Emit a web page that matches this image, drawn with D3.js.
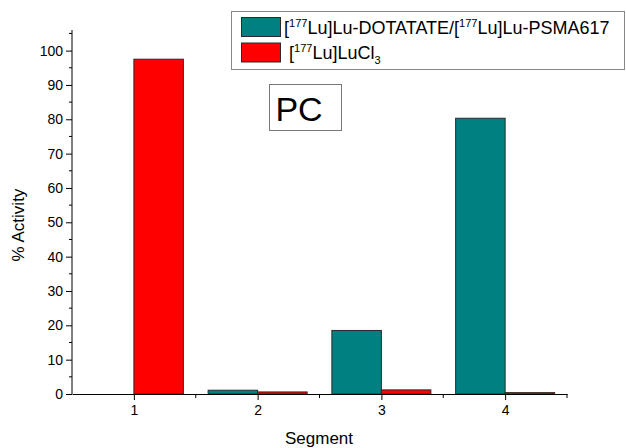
<!DOCTYPE html>
<html><head><meta charset="utf-8">
<script src="https://cdn.jsdelivr.net/npm/d3@7"></script>
<style>body{margin:0;background:#fff}svg{display:block;font-family:"Liberation Sans",Arial,sans-serif}</style>
</head><body><svg id="c" width="626" height="448"></svg>
<script>
const categories = [1, 2, 3, 4];
const seriesNames = ["DOTATATE", "LuCl3"];
const dotatateValues = [0, 1.1, 18.5, 80.3];
const luclValues = [97.5, 0.6, 1.2, 0.4];
const yTicks = [0, 10, 20, 30, 40, 50, 60, 70, 80, 90, 100];
const colors = ["#008080", "#ff0000"];

const svg = d3.select("#c");
const x = d3.scaleLinear().domain([0.5, 4.5]).range([72, 567]);
const y = d3.scaleLinear().domain([0, 106]).range([394, 30]);
const bw = 0.4;

// bars
const data = [];
categories.forEach((c, i) => {
  data.push({c, s: 0, v: dotatateValues[i]});
  data.push({c, s: 1, v: luclValues[i]});
});
svg.append("g").selectAll("rect").data(data.filter(d => d.v > 0)).join("rect")
  .attr("x", d => d.s === 0 ? x(d.c - bw) : x(d.c))
  .attr("width", d => x(d.c + bw) - x(d.c))
  .attr("y", d => y(d.v))
  .attr("height", d => y(0) - y(d.v))
  .attr("fill", d => colors[d.s])
  .attr("stroke", "#2a2a2a").attr("stroke-width", 1);

// y axis
const yAxis = d3.axisLeft(y).tickValues(yTicks).tickSize(6).tickPadding(3).tickSizeOuter(0);
const gy = svg.append("g").attr("transform", "translate(72,0)").call(yAxis);
gy.selectAll("text").style("font-size", "14px").attr("fill", "#000");
gy.selectAll("line").attr("stroke", "#000");
gy.select(".domain").attr("stroke", "#000").attr("d", `M0,${y(106)}V${y(0)}`);
const yMinor = d3.range(5, 106, 10);
gy.selectAll(".minor").data(yMinor).join("line").attr("class", "minor")
  .attr("x1", -3).attr("x2", 0).attr("y1", d => y(d)).attr("y2", d => y(d)).attr("stroke", "#000");

// x axis
const xAxis = d3.axisBottom(x).tickValues(categories).tickFormat(d3.format("d")).tickSize(6).tickPadding(5).tickSizeOuter(0);
const gx = svg.append("g").attr("transform", "translate(0,394)").call(xAxis);
gx.selectAll("text").style("font-size", "14px").attr("fill", "#000");
gx.selectAll("line").attr("stroke", "#000");
gx.select(".domain").attr("stroke", "#000");
const xMinor = [1.5, 2.5, 3.5, 4.5];
gx.selectAll(".minor").data(xMinor).join("line").attr("class", "minor")
  .attr("x1", d => x(d)).attr("x2", d => x(d)).attr("y1", 0).attr("y2", 4).attr("stroke", "#000");

// axis titles
svg.append("text").attr("x", 319).attr("y", 444).attr("text-anchor", "middle")
  .style("font-size", "17px").text("Segment");
svg.append("text").attr("transform", "translate(24,225) rotate(-90)").attr("text-anchor", "middle")
  .style("font-size", "17px").text("% Activity");

// PC box
svg.append("rect").attr("x", 269.5).attr("y", 84.5).attr("width", 72).attr("height", 46)
  .attr("fill", "#fff").attr("stroke", "#777");
svg.append("text").attr("x", 299).attr("y", 121).attr("text-anchor", "middle")
  .style("font-size", "34px").text("PC");

// legend
const lg = svg.append("g");
lg.append("rect").attr("x", 231.5).attr("y", 11.5).attr("width", 393).attr("height", 58)
  .attr("fill", "#fff").attr("stroke", "#888");
lg.selectAll(".sw").data(seriesNames).join("rect").attr("class", "sw")
  .attr("x", 241.5).attr("y", (d, i) => 17.5 + i * 25.5).attr("width", 39).attr("height", 19)
  .attr("fill", (d, i) => colors[i]).attr("stroke", "#2a2a2a");
const t1 = lg.append("text").attr("x", 284).attr("y", 34).style("font-size", "18px");
t1.append("tspan").text("[");
t1.append("tspan").attr("dy", -7).style("font-size", "11px").text("177");
t1.append("tspan").attr("dy", 7).text("Lu]Lu-DOTATATE/[");
t1.append("tspan").attr("dy", -7).style("font-size", "11px").text("177");
t1.append("tspan").attr("dy", 7).text("Lu]Lu-PSMA617");
const t2 = lg.append("text").attr("x", 289).attr("y", 59).style("font-size", "18px");
t2.append("tspan").text(" [");
t2.append("tspan").attr("dy", -7).style("font-size", "11px").text("177");
t2.append("tspan").attr("dy", 7).text("Lu]LuCl");
t2.append("tspan").attr("dy", 5).style("font-size", "11px").text("3");
</script></body></html>
